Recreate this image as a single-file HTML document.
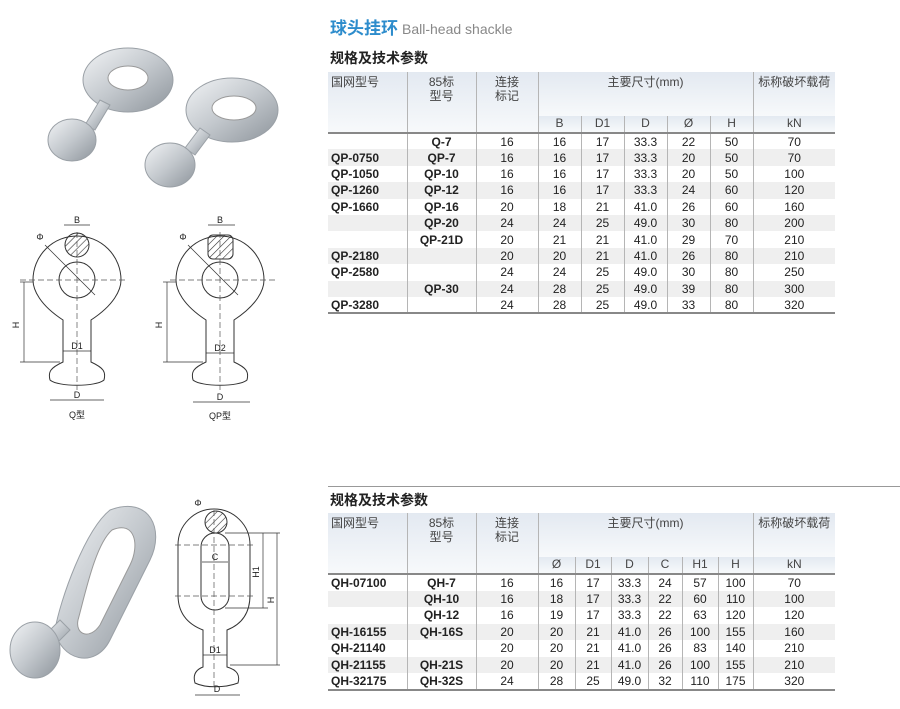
<!DOCTYPE html>
<html><head><meta charset="utf-8">
<style>
body{margin:0;width:900px;height:709px;background:#fff;position:relative;overflow:hidden;font-family:"Liberation Sans","Noto Sans CJK SC",sans-serif;color:#222}
.abs{position:absolute}
table{border-collapse:collapse;table-layout:fixed;font-size:12px;position:absolute;left:328px}
td{padding:0;text-align:center;border-left:1px solid #b5b5b5;white-space:nowrap;overflow:hidden}
td:first-child{border-left:none;text-align:left;padding-left:3px;font-weight:bold}
td.c{text-align:center!important;padding-left:0!important;font-weight:normal!important;border-left:1px solid #b5b5b5!important}
td.b{font-weight:bold}
tr.s td{background:#efefef}
.hd td{background:linear-gradient(#e3e9f1,#f7f9fb);color:#444;vertical-align:top;font-weight:normal;line-height:14px}
.hd2 td{vertical-align:bottom;padding-bottom:2px}
.title{left:330px;top:14px;font-size:17px;font-weight:bold;color:#2d8ccc}
.title span{font-size:14px;font-weight:normal;color:#888;font-family:"Liberation Sans Narrow","Liberation Sans",sans-serif;margin-left:4px}
.sec{left:330px;font-size:14px;font-weight:bold;color:#222}
</style></head><body>
<div class="abs title">球头挂环<span>Ball-head shackle</span></div>
<div class="abs sec" style="top:48px">规格及技术参数</div>
<div class="abs sec" style="top:490px">规格及技术参数</div>
<div class="abs" style="left:328px;top:486px;width:572px;height:1px;background:#999"></div>

<table style="top:72px;width:507px">
<colgroup><col style="width:79px"><col style="width:69px"><col style="width:62px"><col style="width:43px"><col style="width:43px"><col style="width:43px"><col style="width:43px"><col style="width:43px"><col style="width:82px"></colgroup>
<tr class="hd" style="height:44px"><td rowspan="2" style="padding-top:3px">国网型号</td><td rowspan="2" style="padding-top:3px">85标<br>型号</td><td rowspan="2" style="padding-top:3px">连接<br>标记</td><td colspan="5" style="padding-top:3px">主要尺寸(mm)</td><td style="padding-top:3px">标称破坏载荷</td></tr>
<tr class="hd hd2" style="height:17px;border-bottom:2px solid #888"><td class="c">B</td><td>D1</td><td>D</td><td>Ø</td><td>H</td><td>kN</td></tr>
<tr style="height:16.4px"><td></td><td class="b">Q-7</td><td>16</td><td>16</td><td>17</td><td>33.3</td><td>22</td><td>50</td><td>70</td></tr>
<tr class="s" style="height:16.4px"><td>QP-0750</td><td class="b">QP-7</td><td>16</td><td>16</td><td>17</td><td>33.3</td><td>20</td><td>50</td><td>70</td></tr>
<tr style="height:16.4px"><td>QP-1050</td><td class="b">QP-10</td><td>16</td><td>16</td><td>17</td><td>33.3</td><td>20</td><td>50</td><td>100</td></tr>
<tr class="s" style="height:16.4px"><td>QP-1260</td><td class="b">QP-12</td><td>16</td><td>16</td><td>17</td><td>33.3</td><td>24</td><td>60</td><td>120</td></tr>
<tr style="height:16.4px"><td>QP-1660</td><td class="b">QP-16</td><td>20</td><td>18</td><td>21</td><td>41.0</td><td>26</td><td>60</td><td>160</td></tr>
<tr class="s" style="height:16.4px"><td></td><td class="b">QP-20</td><td>24</td><td>24</td><td>25</td><td>49.0</td><td>30</td><td>80</td><td>200</td></tr>
<tr style="height:16.4px"><td></td><td class="b">QP-21D</td><td>20</td><td>21</td><td>21</td><td>41.0</td><td>29</td><td>70</td><td>210</td></tr>
<tr class="s" style="height:16.4px"><td>QP-2180</td><td class="b"></td><td>20</td><td>20</td><td>21</td><td>41.0</td><td>26</td><td>80</td><td>210</td></tr>
<tr style="height:16.4px"><td>QP-2580</td><td class="b"></td><td>24</td><td>24</td><td>25</td><td>49.0</td><td>30</td><td>80</td><td>250</td></tr>
<tr class="s" style="height:16.4px"><td></td><td class="b">QP-30</td><td>24</td><td>28</td><td>25</td><td>49.0</td><td>39</td><td>80</td><td>300</td></tr>
<tr style="height:16.4px;border-bottom:2px solid #888"><td>QP-3280</td><td class="b"></td><td>24</td><td>28</td><td>25</td><td>49.0</td><td>33</td><td>80</td><td>320</td></tr>
</table>

<table style="top:513px;width:507px">
<colgroup><col style="width:79px"><col style="width:69px"><col style="width:62px"><col style="width:37px"><col style="width:36px"><col style="width:37px"><col style="width:34px"><col style="width:36px"><col style="width:35px"><col style="width:82px"></colgroup>
<tr class="hd" style="height:44px"><td rowspan="2" style="padding-top:3px">国网型号</td><td rowspan="2" style="padding-top:3px">85标<br>型号</td><td rowspan="2" style="padding-top:3px">连接<br>标记</td><td colspan="6" style="padding-top:3px">主要尺寸(mm)</td><td style="padding-top:3px">标称破坏载荷</td></tr>
<tr class="hd hd2" style="height:17px;border-bottom:2px solid #888"><td class="c">Ø</td><td>D1</td><td>D</td><td>C</td><td>H1</td><td>H</td><td>kN</td></tr>
<tr style="height:16.5px"><td>QH-07100</td><td class="b">QH-7</td><td>16</td><td>16</td><td>17</td><td>33.3</td><td>24</td><td>57</td><td>100</td><td>70</td></tr>
<tr class="s" style="height:16.5px"><td></td><td class="b">QH-10</td><td>16</td><td>18</td><td>17</td><td>33.3</td><td>22</td><td>60</td><td>110</td><td>100</td></tr>
<tr style="height:16.5px"><td></td><td class="b">QH-12</td><td>16</td><td>19</td><td>17</td><td>33.3</td><td>22</td><td>63</td><td>120</td><td>120</td></tr>
<tr class="s" style="height:16.5px"><td>QH-16155</td><td class="b">QH-16S</td><td>20</td><td>20</td><td>21</td><td>41.0</td><td>26</td><td>100</td><td>155</td><td>160</td></tr>
<tr style="height:16.5px"><td>QH-21140</td><td class="b"></td><td>20</td><td>20</td><td>21</td><td>41.0</td><td>26</td><td>83</td><td>140</td><td>210</td></tr>
<tr class="s" style="height:16.5px"><td>QH-21155</td><td class="b">QH-21S</td><td>20</td><td>20</td><td>21</td><td>41.0</td><td>26</td><td>100</td><td>155</td><td>210</td></tr>
<tr style="height:16.5px;border-bottom:2px solid #888"><td>QH-32175</td><td class="b">QH-32S</td><td>24</td><td>28</td><td>25</td><td>49.0</td><td>32</td><td>110</td><td>175</td><td>320</td></tr>
</table>

<svg class="abs" style="left:0;top:0" width="328" height="709" viewBox="0 0 328 709">
<defs>
<linearGradient id="m" x1="0" y1="0" x2="1" y2="1"><stop offset="0" stop-color="#f2f4f6"/><stop offset=".5" stop-color="#c3c8cd"/><stop offset="1" stop-color="#8d949b"/></linearGradient>
<pattern id="h" width="5" height="5" patternUnits="userSpaceOnUse" patternTransform="rotate(45)"><line x1="0" y1="0" x2="0" y2="5" stroke="#333" stroke-width="1.2"/></pattern>
</defs>
<g fill="url(#m)" stroke="#9aa0a6" stroke-width="1">
<ellipse cx="128" cy="80" rx="45" ry="32"/>
<path d="M110 105 L95 130 L85 125 L100 100Z"/>
<ellipse cx="72" cy="140" rx="24" ry="21"/>
<ellipse cx="232" cy="110" rx="46" ry="32"/>
<path d="M210 135 L195 155 L185 148 L200 128Z"/>
<ellipse cx="170" cy="165" rx="25" ry="22"/>
</g>
<ellipse cx="128" cy="78" rx="20" ry="12" fill="#fff" stroke="#999"/>
<ellipse cx="234" cy="108" rx="22" ry="12" fill="#fff" stroke="#999"/>
<g fill="url(#m)" stroke="#9aa0a6">
<path d="M110 510 C150 495 165 530 150 560 L110 640 C95 670 60 660 55 630 C60 600 85 530 110 510Z"/>
<path d="M60 620 L40 640 L50 650 L70 630Z"/>
<ellipse cx="35" cy="650" rx="25" ry="28"/>
</g>
<path d="M112 530 C135 520 140 545 130 565 L100 625 C90 640 75 635 78 620 C85 595 95 545 112 530Z" fill="#fff" stroke="#999"/>
<g fill="none" stroke="#333" stroke-width="1">
<path d="M63 320 C40 305 33 290 33 280 A44 44 0 1 1 121 280 C121 290 114 305 91 320 L91 362 C104 368 106 372 104 380 C96 387 58 387 50 380 C48 372 50 368 63 362Z"/>
<circle cx="77" cy="280" r="18"/>
<path d="M206 320 C183 305 176 290 176 280 A44 44 0 1 1 264 280 C264 290 257 305 234 320 L234 362 C247 368 249 372 247 380 C239 387 201 387 193 380 C191 372 193 368 206 362Z"/>
<circle cx="220" cy="280" r="18"/>
<path d="M178 545 A36 36 0 0 1 250 545 L250 595 C250 615 240 625 227 630 L227 667 C238 670 240 676 238 683 C225 688 205 688 195 683 C193 676 195 670 203 667 L203 630 C190 625 178 615 178 595Z"/>
<rect x="201" y="533" width="28" height="77" rx="14"/>
</g>
<circle cx="77" cy="245" r="12" fill="url(#h)" stroke="#333"/>
<rect x="208" y="235" width="25" height="24" rx="5" fill="url(#h)" stroke="#333"/>
<circle cx="216" cy="522" r="11" fill="url(#h)" stroke="#333"/>
<g stroke="#555" stroke-width=".7" fill="none" stroke-dasharray="6 3">
<line x1="20" y1="280" x2="126" y2="280"/><line x1="77" y1="232" x2="77" y2="390"/>
<line x1="170" y1="280" x2="275" y2="280"/><line x1="220" y1="232" x2="220" y2="390"/>
<line x1="214" y1="510" x2="214" y2="690"/><line x1="175" y1="545" x2="255" y2="545"/><line x1="175" y1="596" x2="255" y2="596"/>
</g>
<g stroke="#333" stroke-width=".7" fill="none">
<line x1="24" y1="282" x2="24" y2="362"/><line x1="20" y1="282" x2="33" y2="282"/><line x1="20" y1="362" x2="60" y2="362"/>
<line x1="167" y1="282" x2="167" y2="362"/><line x1="163" y1="282" x2="176" y2="282"/><line x1="163" y1="362" x2="203" y2="362"/>
<line x1="50" y1="400" x2="104" y2="400"/><line x1="193" y1="402" x2="250" y2="402"/>
<line x1="63" y1="351" x2="91" y2="351"/><line x1="206" y1="353" x2="234" y2="353"/>
<line x1="64" y1="225" x2="90" y2="225"/><line x1="208" y1="225" x2="235" y2="225"/>
<line x1="45" y1="245" x2="95" y2="295"/><line x1="188" y1="245" x2="238" y2="295"/>
<line x1="263" y1="533" x2="263" y2="608"/><line x1="277" y1="533" x2="277" y2="665"/>
<line x1="202" y1="562" x2="228" y2="562"/><line x1="203" y1="655" x2="227" y2="655"/><line x1="195" y1="695" x2="240" y2="695"/>
<line x1="225" y1="533" x2="280" y2="533"/><line x1="225" y1="608" x2="268" y2="608"/><line x1="230" y1="665" x2="280" y2="665"/>
</g>
<g font-size="9" fill="#222" text-anchor="middle" font-family="Liberation Sans,sans-serif">
<text x="77" y="223">B</text><text x="220" y="223">B</text>
<text x="40" y="240">Φ</text><text x="183" y="240">Φ</text>
<text x="19" y="325" transform="rotate(-90 19 325)">H</text><text x="162" y="325" transform="rotate(-90 162 325)">H</text>
<text x="77" y="349">D1</text><text x="220" y="351">D2</text>
<text x="77" y="398">D</text><text x="220" y="400">D</text>
<text x="77" y="418" font-family="Liberation Sans,Noto Sans CJK SC,sans-serif">Q型</text>
<text x="220" y="419" font-family="Liberation Sans,Noto Sans CJK SC,sans-serif">QP型</text>
<text x="198" y="506">Φ</text><text x="215" y="560">C</text>
<text x="259" y="572" transform="rotate(-90 259 572)">H1</text><text x="274" y="600" transform="rotate(-90 274 600)">H</text>
<text x="215" y="653">D1</text><text x="217" y="692">D</text>
</g>
</svg>
</body></html>
